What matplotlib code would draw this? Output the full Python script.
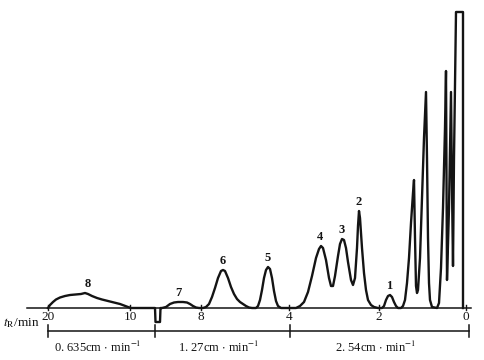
import matplotlib.pyplot as plt

plt.rcParams['font.family'] = ['Liberation Serif', 'DejaVu Serif']
plt.rcParams['mathtext.fontset'] = 'stix'

# chart position (along paper) and detector response, traced from the recording
pos = [48, 50, 53, 56, 60, 65, 70, 76, 81, 85, 88, 92, 97, 102, 108, 114, 120, 124, 128, 131,
       155, 155.5, 160, 160.5,
       162, 166, 170, 174, 178, 183, 187, 190, 193, 196, 199,
       203, 206, 209, 212, 215, 218, 221, 223, 225, 228, 231, 234, 237, 240, 243, 246, 249, 252,
       256, 258, 260, 262, 264, 266, 268, 270, 272, 274, 276, 278, 281,
       296, 300, 304, 308, 312, 316, 319, 321, 323, 326, 329, 331, 333, 335, 338, 340, 342, 344,
       346, 348, 351, 353, 355, 357, 358, 359, 360, 362, 364, 366, 368, 371, 374, 378,
       382, 384, 386, 388, 390, 392, 394, 396, 398,
       401, 403, 405, 407, 409, 411, 413, 414, 415, 416, 417, 418, 420, 422, 424, 426, 427, 428,
       429, 430, 432, 437, 439, 441, 443, 445, 446, 447, 449, 451, 452, 453, 454, 456, 463, 463]
resp = [0, 3, 6, 8.5, 10.5, 12, 13, 13.5, 14, 15, 14, 12, 10, 8.5, 7, 5.5, 4, 2.5, 1, 0,
        0, -14, -14, 0,
        0, 1, 4, 5.5, 6, 6, 5.5, 4, 2, 0.5, 0,
        0, 1, 4, 11, 20, 30, 37, 38, 37, 30, 21, 14, 9, 6, 4, 2, 0.5, 0,
        0, 2, 8, 18, 30, 38, 41, 39, 30, 17, 7, 2, 0,
        0, 2, 6, 16, 32, 50, 59, 62, 60, 48, 30, 22, 22, 32, 52, 64, 69, 68,
        60, 46, 28, 23, 30, 60, 82, 97, 90, 60, 35, 18, 8, 3, 1, 0,
        0, 2, 8, 12, 13, 11, 6, 2, 0,
        0, 2, 8, 25, 50, 85, 115, 128, 70, 22, 15, 18, 50, 110, 170, 216, 150, 70,
        25, 8, 1, 0, 5, 40, 100, 180, 237, 28, 100, 216, 120, 42, 150, 296, 296, 0]

tick_pos = [48, 130, 201, 289, 379, 466]
tick_lab = ['20', '10', '8', '4', '2', '0']

peak_pos = [88, 178, 223, 268, 320, 342, 359, 389]
peak_resp = [15, 6, 38, 41, 62, 69, 97, 13]
peak_lab = ['8', '7', '6', '5', '4', '3', '2', '1']

speed_edges = [48, 155, 290, 469]
speed_lab = ['0. 635cm $\\cdot$ min$^{-1}$', '1. 27cm $\\cdot$ min$^{-1}$', '2. 54cm $\\cdot$ min$^{-1}$']

fig = plt.figure(figsize=(4.85, 3.6), dpi=100)
ax = fig.add_axes([0, 0, 1, 1])
ax.set_xlim(0, 485)
ax.set_ylim(-52, 308)
ax.axis('off')

ink = '#141414'
# baseline
ax.plot([27, 471], [0, 0], color=ink, lw=1.1)
ax.plot(pos, resp, color=ink, lw=1.7, solid_joinstyle='round')

for p, l in zip(tick_pos, tick_lab):
    ax.plot([p, p], [-2, 3], color=ink, lw=1.0)
    ax.text(p, -2.5, l, ha='center', va='top', fontsize=9.5, color=ink)
ax.text(3, -15.5, '$t_{\\rm R}$/min', ha='left', va='center', fontsize=9.5, color=ink)

for p, r, l in zip(peak_pos, peak_resp, peak_lab):
    ax.text(p, r + 3, l, ha='center', va='bottom', fontsize=9, color=ink, fontweight='bold')

# chart-speed bracket
ax.plot([speed_edges[0], speed_edges[-1]], [-23, -23], color=ink, lw=1.1)
for e in speed_edges:
    ax.plot([e, e], [-17, -29], color=ink, lw=1.1)
for a, b, l in zip(speed_edges[:-1], speed_edges[1:], speed_lab):
    ax.text((a + b) / 2 - 4, -39, l, ha='center', va='center', fontsize=9, color=ink)

fig.savefig('out.png', dpi=100)
